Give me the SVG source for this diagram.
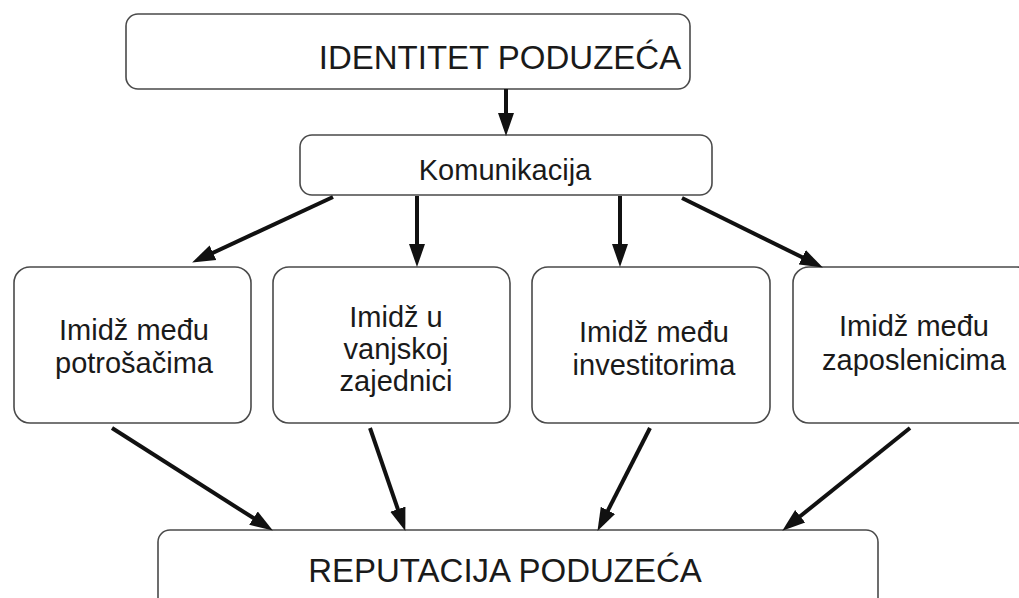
<svg xmlns="http://www.w3.org/2000/svg" width="1019" height="598" viewBox="0 0 1019 598">
<style>
.box{fill:#fff;stroke:#4a4a4a;stroke-width:1.6}
.t{font-family:"Liberation Sans",Arial,sans-serif;fill:#1a1a1a;text-anchor:middle}
.big{font-size:33px}
.mid{font-size:29px}
.c{stroke:#111;stroke-width:4;fill:none;marker-end:url(#ah)}
</style>
<defs>
<marker id="ah" markerUnits="userSpaceOnUse" markerWidth="24" markerHeight="18" refX="10" refY="8" orient="auto" viewBox="0 0 24 16">
<path d="M0,0 L23,8 L0,16 z" fill="#111"/>
</marker>
</defs>
<rect width="1019" height="598" fill="#fff"/>
<g id="identitet"><rect class="box" x="126" y="14" width="564" height="75" rx="12"/><text class="t big" x="500" y="69">IDENTITET PODUZEĆA</text></g>
<g id="komunikacija"><rect class="box" x="300" y="135" width="412" height="60" rx="12"/><text class="t mid" x="505" y="180">Komunikacija</text></g>
<g id="potrosaci"><rect class="box" x="14" y="267" width="237" height="156" rx="16"/><text class="t mid" x="134" y="340">Imidž među</text><text class="t mid" x="134" y="373">potrošačima</text></g>
<g id="zajednica"><rect class="box" x="273" y="267" width="237" height="156" rx="16"/><text class="t mid" x="396" y="327">Imidž u</text><text class="t mid" x="396" y="359">vanjskoj</text><text class="t mid" x="396" y="391">zajednici</text></g>
<g id="investitori"><rect class="box" x="532" y="267" width="238" height="156" rx="16"/><text class="t mid" x="654" y="342">Imidž među</text><text class="t mid" x="654" y="375">investitorima</text></g>
<g id="zaposlenici"><rect class="box" x="793" y="267" width="240" height="156" rx="16"/><text class="t mid" x="914" y="336">Imidž među</text><text class="t mid" x="914" y="370">zaposlenicima</text></g>
<g id="reputacija"><rect class="box" x="158" y="530" width="720" height="90" rx="12"/><text class="t big" x="505" y="582">REPUTACIJA PODUZEĆA</text></g>
<g id="connectors">
<line class="c" x1="506" y1="89" x2="506" y2="123"/>
<line class="c" x1="333" y1="197" x2="203.9" y2="257"/>
<line class="c" x1="417" y1="196" x2="417" y2="254"/>
<line class="c" x1="620" y1="196" x2="620" y2="254"/>
<line class="c" x1="682" y1="198" x2="811.2" y2="261.7"/>
<line class="c" x1="112" y1="428" x2="261.9" y2="523.5"/>
<line class="c" x1="370" y1="428" x2="401.1" y2="518.6"/>
<line class="c" x1="650" y1="428" x2="603.4" y2="519.3"/>
<line class="c" x1="910" y1="428" x2="792.4" y2="522.5"/>
</g>
</svg>
